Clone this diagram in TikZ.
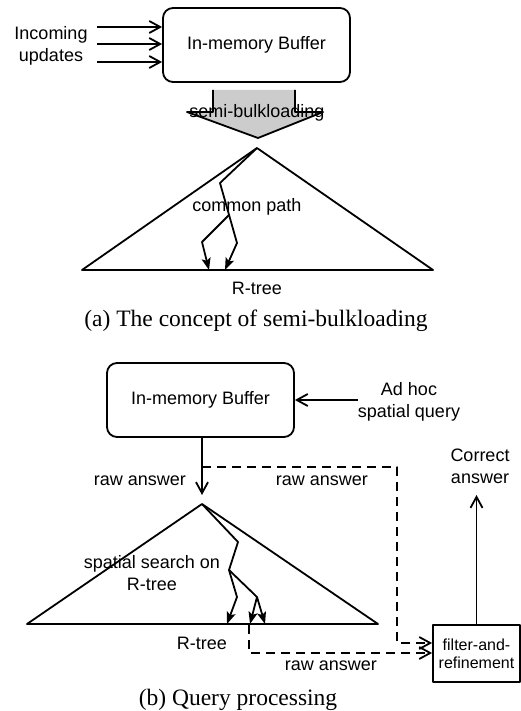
\documentclass[tikz,border=0pt]{standalone}
\usepackage{fontspec}
\setmainfont{Liberation Serif}
\setsansfont{Liberation Sans}
\usetikzlibrary{arrows.meta}
\begin{document}
\begin{tikzpicture}[x=1pt,y=-1pt,
  lab/.style={font=\sffamily\fontsize{18}{22}\selectfont, align=center, inner sep=0pt},
  small/.style={font=\sffamily\fontsize{16}{18}\selectfont, align=center, inner sep=0pt},
  captext/.style={font=\fontsize{23.5}{28}\selectfont, inner sep=0pt},
  ln/.style={line width=1.8pt, line join=round},
  barb/.style={-{Straight Barb[length=11pt,width=12pt,line width=1.8pt]}},
  solidtip/.style={-{Stealth[length=12pt,width=9pt,inset=2.5pt]}},
  dsh/.style={dash pattern=on 9pt off 6pt},
  bufbox/.style={draw, ln, rounded corners=10pt, minimum width=187pt, minimum height=74pt, lab}
]
\useasboundingbox (0,0) rectangle (521,711);

% ---------- (a) ----------
\node[bufbox] (bufA) at (256.5,45) {In-memory Buffer};
\node[lab] (inc) at (51,46) {Incoming\\updates};
\coordinate (i1) at (97,27);
\coordinate (i2) at (97,44);
\coordinate (i3) at (97,62);
\draw[ln,barb] (i1) -- (i1 -| bufA.west);
\draw[ln,barb] (i2) -- (i2 -| bufA.west);
\draw[ln,barb] (i3) -- (i3 -| bufA.west);

% block arrow
\coordinate (s1) at (213,90);
\coordinate (s2) at (213,112);
\coordinate (s3) at (187,112);
\coordinate (s4) at (258,138);
\coordinate (s5) at (323,112);
\coordinate (s6) at (295,112);
\coordinate (s7) at (295,90);
\fill[black!20] (s1) -- (s2) -- (s3) -- (s4) -- (s5) -- (s6) -- (s7) -- cycle;
\draw[ln] (s1) -- (s2) -- (s3) -- (s4) -- (s5) -- (s6) -- (s7);
\node[lab] (sbl) at (257,113) {semi-bulkloading};

% tree (a)
\coordinate (tA) at (257,148);
\coordinate (lA) at (82,270);
\coordinate (rA) at (433,270);
\draw[ln] (lA) -- (tA) -- (rA) -- cycle;
\coordinate (pa1) at (220,183);
\coordinate (pa2) at (229,215);
\coordinate (pa3) at (237,243);
\coordinate (pa4) at (225,270);
\coordinate (pa5) at (202,242);
\coordinate (pa6) at (209,270);
\draw[ln,solidtip] (tA) -- (pa1) -- (pa3) -- (pa4);
\draw[ln,solidtip] (pa2) -- (pa5) -- (pa6);
\node[lab] (cp) at (247,207) {common path};
\node[lab] (rtA) at (257,288) {R-tree};
\node[captext] (capA) at (256,321) {(a) The concept of semi-bulkloading};

% ---------- (b) ----------
\node[bufbox] (bufB) at (200.5,400) {In-memory Buffer};
\node[lab] (adhoc) at (409,402) {Ad hoc\\spatial query};
\draw[ln,barb] (adhoc.west |- bufB.east) -- (bufB.east);

\coordinate (dA) at (202,495);
\draw[ln,barb] (bufB.south -| dA) -- (dA);
\node[lab] (raw1) at (140,481) {raw answer};
\node[lab] (raw2) at (322,481) {raw answer};

% tree (b)
\coordinate (tB) at (202,504);
\coordinate (lB) at (27,624);
\coordinate (rB) at (378,624);
\draw[ln] (lB) -- (tB) -- (rB) -- cycle;
\coordinate (pb1) at (238,542);
\coordinate (pb2) at (229,570);
\coordinate (pb3) at (237,597);
\coordinate (pb4) at (227,624);
\coordinate (pb5) at (257,597);
\coordinate (pb6) at (250,624);
\coordinate (pb7) at (265,624);
\draw[ln,solidtip] (tB) -- (pb1) -- (pb2) -- (pb3) -- (pb4);
\draw[ln,solidtip] (pb2) -- (pb5) -- (pb6);
\draw[ln,solidtip] (pb5) -- (pb7);
\node[lab] (ss) at (152,573) {spatial search on\\R-tree};
\node[lab] (rtB) at (202,643) {R-tree};

% filter box
\node[draw, ln, minimum width=87pt, minimum height=57pt, small] (filt) at (476.5,653.5) {filter-and-\\refinement};
\coordinate (ca) at (476.5,495);
\draw[ln,barb] (filt.north) -- (ca);
\node[lab] (corr) at (480,466) {Correct\\answer};

% dashed raw answers
\coordinate (d1) at (202,467);
\coordinate (d2) at (397,467);
\coordinate (d3) at (397,643);
\draw[ln,dsh,barb] (d1) -- (d2) -- (d3) -- (d3 -| filt.west);
\coordinate (e1) at (249,625);
\coordinate (e2) at (249,653);
\draw[ln,dsh,barb] (e1) -- (e2) -- (e2 -| filt.west);
\node[lab] (raw3) at (331,666) {raw answer};

\node[captext] (capB) at (238,700) {(b) Query processing};
\end{tikzpicture}
\end{document}
